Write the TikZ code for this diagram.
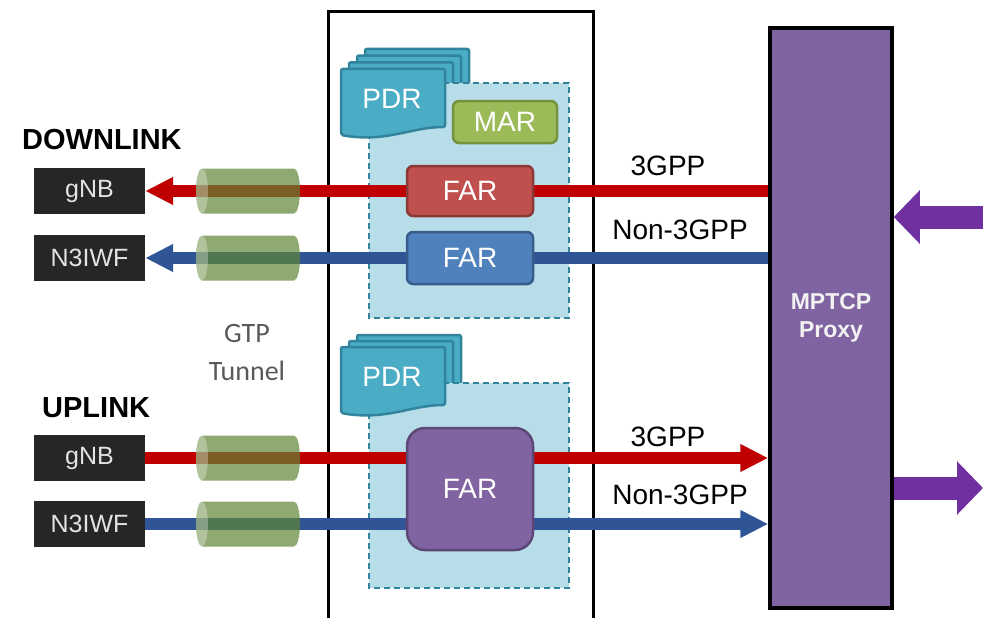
\documentclass[tikz,border=0pt]{standalone}
\usepackage{fontspec}
\setmainfont{Liberation Sans}
\newfontfamily\calibrifont{Carlito}
\usetikzlibrary{arrows.meta, positioning}

\pgfdeclarelayer{back}
\pgfdeclarelayer{mid}
\pgfsetlayers{back,mid,main}

\definecolor{boxdark}{HTML}{262626}
\definecolor{boxtext}{HTML}{E3E3E3}
\definecolor{pdrblue}{HTML}{4BACC6}
\definecolor{pdredge}{HTML}{31849B}
\definecolor{areablue}{HTML}{B7DDE8}
\definecolor{margreen}{HTML}{9BBB59}
\definecolor{maredge}{HTML}{76923C}
\definecolor{farred}{HTML}{C0504D}
\definecolor{farrededge}{HTML}{8C3836}
\definecolor{farblue}{HTML}{4F81BD}
\definecolor{farblueedge}{HTML}{385D8A}
\definecolor{farpurple}{HTML}{8064A2}
\definecolor{farpurpleedge}{HTML}{5C4776}
\definecolor{linkred}{HTML}{C00000}
\definecolor{linkblue}{HTML}{2F5597}
\definecolor{proxyarrow}{HTML}{7030A0}
\definecolor{tunnelgreen}{HTML}{608536}
\definecolor{gtpgray}{HTML}{595959}

\tikzset{
  terminal/.style={fill=boxdark, text=boxtext, minimum width=111pt, minimum height=46pt,
    inner sep=0pt, font=\fontsize{25}{29}\selectfont},
  rulenode/.style={draw, line width=2.5pt, rounded corners=6pt, text=white, minimum width=126pt,
    inner sep=0pt, font=\fontsize{28}{32}\selectfont},
  rulearea/.style={draw=pdredge, fill=areablue, line width=1.5pt, dash pattern=on 6pt off 4pt},
  pdrpage/.style={draw=pdredge, fill=pdrblue, line width=2.5pt, rounded corners=2pt},
  heading/.style={anchor=west, inner sep=0pt, font=\bfseries\fontsize{29}{33}\selectfont},
  linklabel/.style={inner sep=0pt, font=\fontsize{28}{31}\selectfont},
  link/.style={line width=12pt},
  redlink/.style={link, draw=linkred, -{Triangle[length=28pt,width=26pt]}},
  bluelink/.style={link, draw=linkblue, -{Triangle[length=28pt,width=26pt]}},
  bigarrow/.style={line width=23pt, draw=proxyarrow, -{Triangle[length=26pt,width=52pt]}},
  page/.pic={
    \path[pdrpage] (0,0) -- (104,0) -- (104,58) .. controls (70,58) and (45,74) .. (0,66) -- cycle;
  },
  tunnel/.pic={
    \fill[tunnelgreen, opacity=.7] (-46,-22.5) -- (46,-22.5)
      arc[start angle=-90, end angle=90, x radius=6, y radius=22.5]
      -- (-46,22.5) arc[start angle=90, end angle=270, x radius=6, y radius=22.5] -- cycle;
    \fill[white, opacity=.3] (-46,0) ellipse[x radius=6, y radius=22.5];
  }
}

\begin{document}
\begin{tikzpicture}[x=1pt, y=-1pt]
  \useasboundingbox (0,0) rectangle (983,618);
  \clip (0,0) rectangle (983,618);

  % access side
  \node[heading] (downlink) at (22,140) {DOWNLINK};
  \node[heading] (uplink) at (42,408) {UPLINK};
  \node[terminal] (gnbD) at (89.5,191) {gNB};
  \node[terminal] (n3iwfD) at (89.5,258) {N3IWF};
  \node[terminal] (gnbU) at (89.5,458) {gNB};
  \node[terminal] (n3iwfU) at (89.5,524) {N3IWF};
  \node[align=center, text=gtpgray, font=\calibrifont\fontsize{28}{38}\selectfont] (gtp) at (247,353) {GTP\\Tunnel};

  % rules
  \node[rulenode, fill=margreen, draw=maredge, minimum width=104pt, minimum height=42pt] (mar) at (505,122) {MAR};
  \node[rulenode, fill=farred, draw=farrededge, minimum height=50pt] (far3D) at (470,191) {FAR};
  \node[rulenode, fill=farblue, draw=farblueedge, minimum height=52pt] (farnD) at (470,258) {FAR};
  \node[rulenode, fill=farpurple, draw=farpurpleedge, minimum height=122pt, rounded corners=18pt] (farU) at (470,489) {FAR};

  % proxy
  \node[draw=black, line width=3.5pt, fill=farpurple, minimum width=122pt, minimum height=580pt,
    inner sep=0pt, align=center, text=white!95!black, font=\bfseries\fontsize{23}{28}\selectfont] (proxy) at (831,318) {MPTCP\\Proxy};

  \begin{pgfonlayer}{back}
    \draw[line width=3pt] (328,12) rectangle (593,640);
    % downlink PDRs
    \foreach \k in {3,2,1}
      \pic at ({341+8*\k},{69-6.7*\k}) {page};
    \path[rulearea] (369,83) rectangle (569,318);
    \pic at (341,69) {page};
    \node[text=white, font=\fontsize{28}{32}\selectfont] (pdrD) at (392,99) {PDR};
    % uplink PDRs
    \foreach \k in {2,1}
      \pic at ({341+8*\k},{347-6*\k}) {page};
    \path[rulearea] (369,383) rectangle (569,588);
    \pic at (341,347) {page};
    \node[text=white, font=\fontsize{28}{32}\selectfont] (pdrU) at (392,377) {PDR};
  \end{pgfonlayer}

  \begin{pgfonlayer}{mid}
    \draw[redlink] (proxy.west |- gnbD) -- (gnbD.east);
    \draw[bluelink] (proxy.west |- n3iwfD) -- (n3iwfD.east);
    \draw[redlink] (gnbU.east) -- (proxy.west |- gnbU);
    \draw[bluelink] (n3iwfU.east) -- (proxy.west |- n3iwfU);
    \foreach \y in {191,258,458,524}
      \pic at (248,\y) {tunnel};
  \end{pgfonlayer}

  \node[linklabel] (lbl3D) at (668,166) {3GPP};
  \node[linklabel] (lblnD) at (680,230) {Non-3GPP};
  \node[linklabel] (lbl3U) at (668,437) {3GPP};
  \node[linklabel] (lblnU) at (680,495) {Non-3GPP};

  % core side
  \coordinate (inR) at (990,217);
  \coordinate (outR) at (983,488);
  \draw[bigarrow] (inR) -- (proxy.east |- inR);
  \draw[bigarrow] (proxy.east |- outR) -- (outR);
\end{tikzpicture}
\end{document}
